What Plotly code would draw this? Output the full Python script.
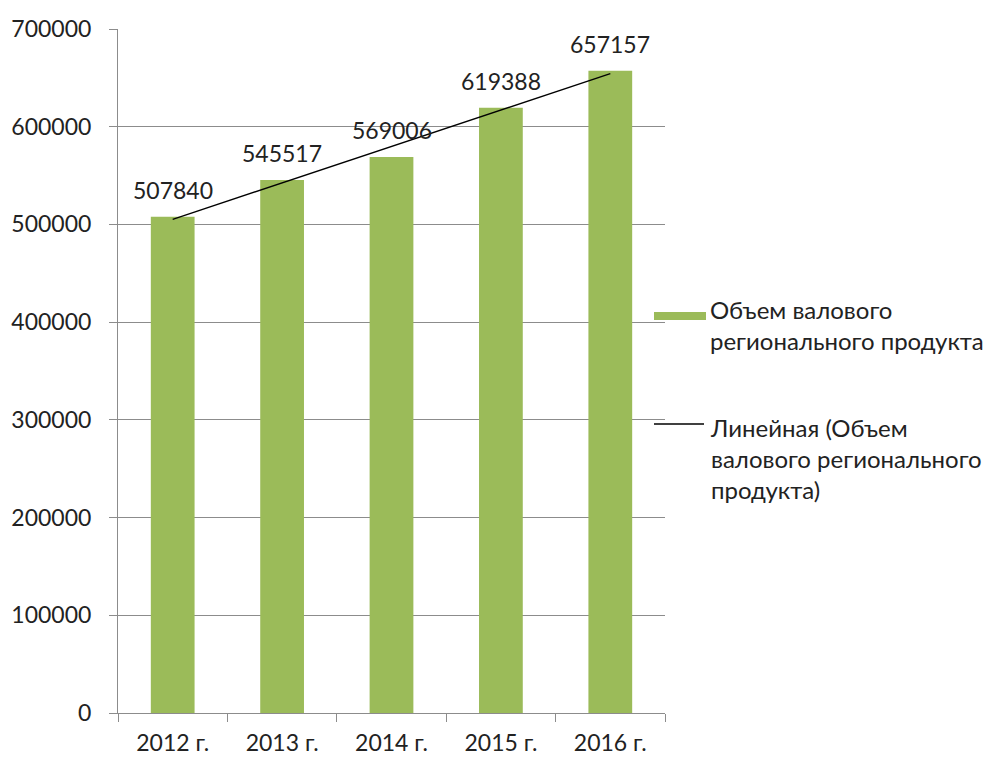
import numpy as np
import plotly.graph_objects as go

categories = ["2012 г.", "2013 г.", "2014 г.", "2015 г.", "2016 г."]
values = [507840, 545517, 569006, 619388, 657157]
y_ticks = [0, 100000, 200000, 300000, 400000, 500000, 600000, 700000]
bar_name = "Объем валового<br>регионального продукта"
trend_name = "Линейная (Объем<br>валового регионального<br>продукта)"

FONT = "Lato"
FS = 23
LFS = 24
GREEN = "#9BBB59"
GRID = "#8C8C8C"
TXT = "#222"

idx = np.arange(len(values))
k, b = np.polyfit(idx, values, 1)
trend = k * idx + b

fig = go.Figure()
fig.add_trace(go.Bar(x=categories, y=values, marker=dict(color=GREEN, line=dict(width=0)),
                     showlegend=False, name=bar_name))
fig.add_trace(go.Scatter(x=categories, y=trend, mode="lines",
                         line=dict(color="black", width=1.3), showlegend=False, name=trend_name))

for c, v in zip(categories, values):
    fig.add_annotation(x=c, y=v, text=str(v), showarrow=False, yanchor="middle", yshift=27,
                       font=dict(family=FONT, size=FS, color=TXT))

def px(xp):
    return 1.0 + (xp - 665) / 547

def py(yp):
    return (713 - yp) / 684

# legend built from shapes + text
fig.add_shape(type="rect", xref="paper", yref="paper", x0=px(654), x1=px(706),
              y0=py(320), y1=py(312), fillcolor=GREEN, line=dict(width=0))
fig.add_annotation(xref="paper", yref="paper", x=px(708), y=py(325),
                   text=bar_name, showarrow=False, xanchor="left", yanchor="middle", align="left",
                   font=dict(family=FONT, size=LFS, color=TXT))
fig.add_shape(type="line", xref="paper", yref="paper", x0=px(654), x1=px(704),
              y0=py(424), y1=py(424), line=dict(color="black", width=1.3))
fig.add_annotation(xref="paper", yref="paper", x=px(708), y=py(458),
                   text=trend_name, showarrow=False, xanchor="left", yanchor="middle", align="left",
                   font=dict(family=FONT, size=LFS, color=TXT))

fig.update_layout(
    width=987, height=750,
    margin=dict(l=110, r=330, t=21, b=45, autoexpand=False),
    paper_bgcolor="white", plot_bgcolor="white",
    bargap=0.6,
    font=dict(family=FONT, size=FS, color=TXT),
)
fig.update_xaxes(showline=True, linecolor=GRID, linewidth=1, ticks="outside", ticklen=8, tickcolor=GRID,
                 tickson="boundaries", showgrid=False, tickfont=dict(size=FS), ticklabelstandoff=9)
fig.update_yaxes(range=[0, 700000], tickvals=y_ticks, tickformat="d", showgrid=True, gridcolor=GRID,
                 gridwidth=1, showline=True, linecolor=GRID, ticks="outside", ticklen=8, tickcolor=GRID,
                 zeroline=False, ticklabelstandoff=13, tickfont=dict(size=FS))

fig.write_html("out.html")
